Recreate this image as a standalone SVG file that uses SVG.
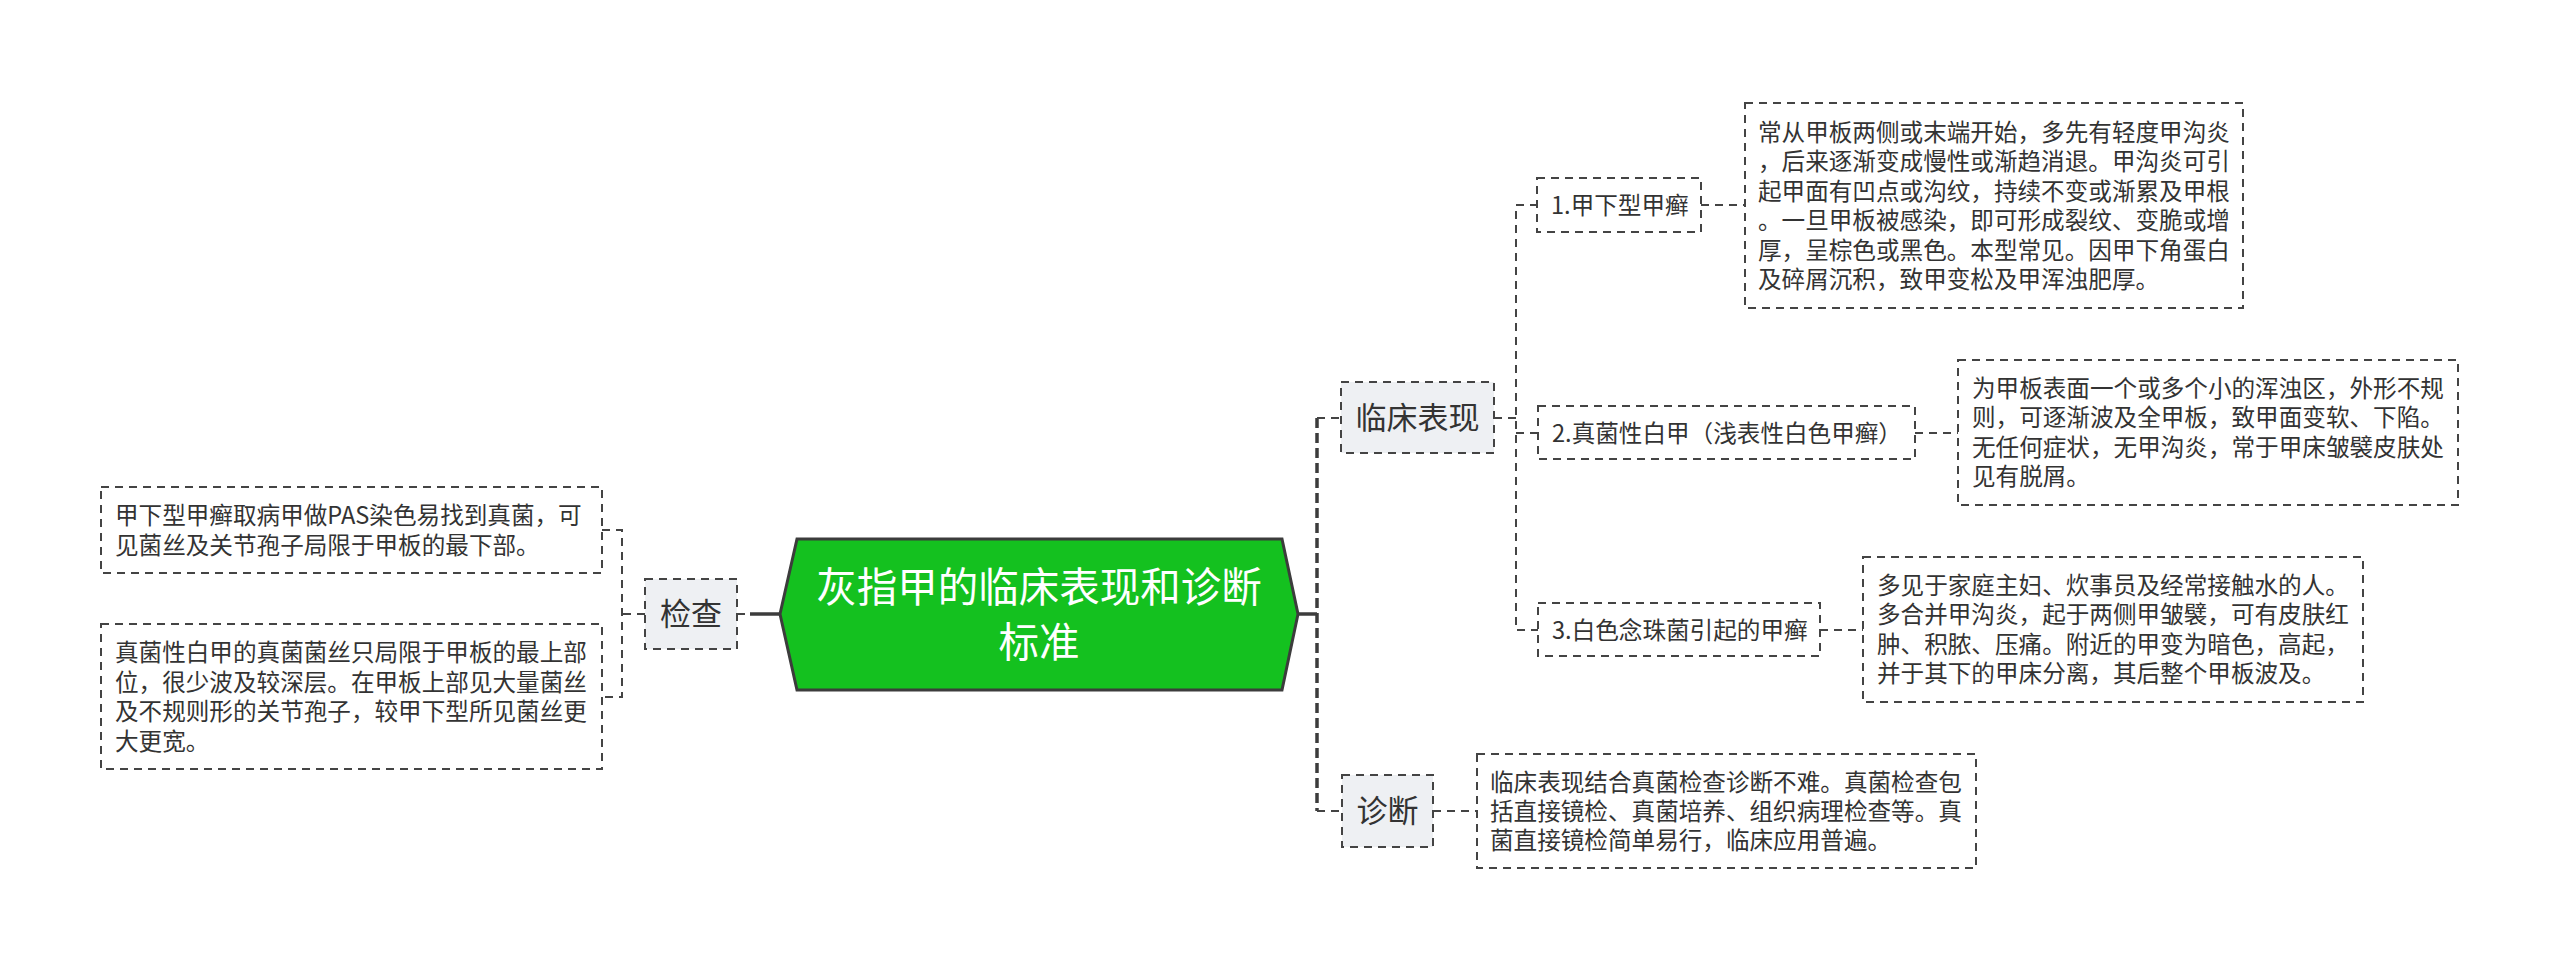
<svg xmlns="http://www.w3.org/2000/svg" width="2560" height="971" viewBox="0 0 2560 971">
<style>
text{font-family:"Noto Sans CJK SC","Noto Sans",sans-serif;fill:#333}
.box{fill:#fff;stroke:#444;stroke-width:2;stroke-dasharray:8 6}
.gbox{fill:#eef0f3;stroke:#444;stroke-width:2;stroke-dasharray:8 6}
.t{font-size:23.6px}
.m{font-size:31px}
.dash{fill:none;stroke:#444;stroke-width:2;stroke-dasharray:8 6}
.thick{fill:none;stroke:#3c3c3c;stroke-width:3.5;stroke-dasharray:10 5}
.solid{fill:none;stroke:#3c3c3c;stroke-width:3.5}
</style>
<rect width="2560" height="971" fill="#fff"/>
<g id="connectors">
<path class="solid" d="M750,614 H781"/>
<path class="dash" d="M737,614 H750"/>
<path class="dash" d="M645,614 H622 M602,530 H622 V697 H602"/>
<path class="solid" d="M1298,614 H1317"/>
<path class="thick" d="M1317,418 V811"/>
<path class="dash" d="M1317,418 H1341 M1317,811 H1342"/>
<path class="dash" d="M1494,418 H1516 M1538,205 H1516 V630 H1538 M1516,433 H1538"/>
<path class="dash" d="M1701,205 H1745 M1915,433 H1958 M1820,630 H1863 M1433,811 H1477"/>
</g>
<g id="root">
<polygon points="780,614 797,539 1282,539 1298,614 1282,690 797,690" fill="#14c11f" stroke="#3c3c3c" stroke-width="3"/>
<text x="1039" y="602" text-anchor="middle" style="font-size:40.5px;fill:#fff">灰指甲的临床表现和诊断</text>
<text x="1039" y="657" text-anchor="middle" style="font-size:40.5px;fill:#fff">标准</text>
</g>
<g id="jiancha">
<rect class="gbox" x="645" y="579" width="92" height="70"/>
<text class="m" x="691" y="625" text-anchor="middle">检查</text>
</g>
<g id="jiancha-1">
<rect class="box" x="101" y="487" width="501" height="86"/>
<text class="t" x="115" y="524">甲下型甲癣取病甲做PAS染色易找到真菌，可</text>
<text class="t" x="115" y="553.5">见菌丝及关节孢子局限于甲板的最下部。</text>
</g>
<g id="jiancha-2">
<rect class="box" x="101" y="624" width="501" height="145"/>
<text class="t" x="115" y="661">真菌性白甲的真菌菌丝只局限于甲板的最上部</text>
<text class="t" x="115" y="690.5">位，很少波及较深层。在甲板上部见大量菌丝</text>
<text class="t" x="115" y="720">及不规则形的关节孢子，较甲下型所见菌丝更</text>
<text class="t" x="115" y="749.5">大更宽。</text>
</g>
<g id="linchuang">
<rect class="gbox" x="1341" y="382" width="153" height="71"/>
<text class="m" x="1417.5" y="429" text-anchor="middle">临床表现</text>
</g>
<g id="zhenduan">
<rect class="gbox" x="1342" y="775" width="91" height="72"/>
<text class="m" x="1387.5" y="822" text-anchor="middle">诊断</text>
</g>
<g id="type1">
<rect class="box" x="1537" y="178" width="164" height="54"/>
<text class="t" x="1551" y="213.5">1.甲下型甲癣</text>
</g>
<g id="type1-text">
<rect class="box" x="1745" y="103" width="498" height="205"/>
<text class="t" x="1758" y="141">常从甲板两侧或末端开始，多先有轻度甲沟炎</text>
<text class="t" x="1758" y="170.4">，后来逐渐变成慢性或渐趋消退。甲沟炎可引</text>
<text class="t" x="1758" y="199.8">起甲面有凹点或沟纹，持续不变或渐累及甲根</text>
<text class="t" x="1758" y="229.2">。一旦甲板被感染，即可形成裂纹、变脆或增</text>
<text class="t" x="1758" y="258.6">厚，呈棕色或黑色。本型常见。因甲下角蛋白</text>
<text class="t" x="1758" y="288">及碎屑沉积，致甲变松及甲浑浊肥厚。</text>
</g>
<g id="type2">
<rect class="box" x="1538" y="406" width="377" height="53"/>
<text class="t" x="1552" y="441.5">2.真菌性白甲（浅表性白色甲癣）</text>
</g>
<g id="type2-text">
<rect class="box" x="1958" y="360" width="500" height="145"/>
<text class="t" x="1972" y="397">为甲板表面一个或多个小的浑浊区，外形不规</text>
<text class="t" x="1972" y="426.4">则，可逐渐波及全甲板，致甲面变软、下陷。</text>
<text class="t" x="1972" y="455.8">无任何症状，无甲沟炎，常于甲床皱襞皮肤处</text>
<text class="t" x="1972" y="485.2">见有脱屑。</text>
</g>
<g id="type3">
<rect class="box" x="1538" y="603" width="282" height="53"/>
<text class="t" x="1552" y="638.5">3.白色念珠菌引起的甲癣</text>
</g>
<g id="type3-text">
<rect class="box" x="1863" y="557" width="500" height="145"/>
<text class="t" x="1877" y="594">多见于家庭主妇、炊事员及经常接触水的人。</text>
<text class="t" x="1877" y="623.4">多合并甲沟炎，起于两侧甲皱襞，可有皮肤红</text>
<text class="t" x="1877" y="652.8">肿、积脓、压痛。附近的甲变为暗色，高起，</text>
<text class="t" x="1877" y="682.2">并于其下的甲床分离，其后整个甲板波及。</text>
</g>
<g id="zhenduan-text">
<rect class="box" x="1477" y="754" width="499" height="114"/>
<text class="t" x="1490" y="790.5">临床表现结合真菌检查诊断不难。真菌检查包</text>
<text class="t" x="1490" y="819.8">括直接镜检、真菌培养、组织病理检查等。真</text>
<text class="t" x="1490" y="849.1">菌直接镜检简单易行，临床应用普遍。</text>
</g>
</svg>
